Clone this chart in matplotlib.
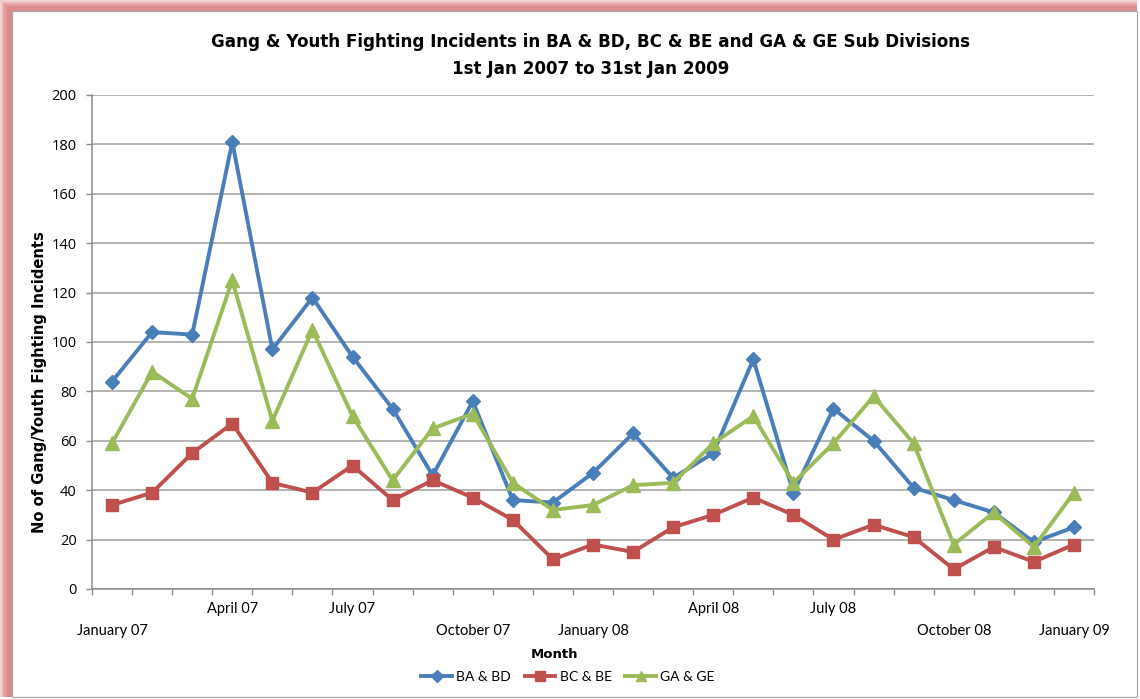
import matplotlib
matplotlib.use("Agg")
import matplotlib.pyplot as plt
import matplotlib.patches as mpatches
from matplotlib.transforms import blended_transform_factory
import numpy as np

# ---------------- data ----------------
months = ["Jan 07", "Feb 07", "Mar 07", "Apr 07", "May 07", "Jun 07", "Jul 07", "Aug 07",
          "Sep 07", "Oct 07", "Nov 07", "Dec 07", "Jan 08", "Feb 08", "Mar 08", "Apr 08",
          "May 08", "Jun 08", "Jul 08", "Aug 08", "Sep 08", "Oct 08", "Nov 08", "Dec 08",
          "Jan 09"]
ba_bd = [84, 104, 103, 181, 97, 118, 94, 73, 46, 76, 36, 35, 47, 63, 45, 55, 93, 39, 73, 60,
         41, 36, 31, 19, 25]
bc_be = [34, 39, 55, 67, 43, 39, 50, 36, 44, 37, 28, 12, 18, 15, 25, 30, 37, 30, 20, 26,
         21, 8, 17, 11, 18]
ga_ge = [59, 88, 77, 125, 68, 105, 70, 44, 65, 71, 43, 32, 34, 42, 43, 59, 70, 43, 59, 78,
         59, 18, 31, 17, 39]
series_names = ["BA & BD", "BC & BE", "GA & GE"]
tick_idx = [0, 3, 6, 9, 12, 15, 18, 21, 24]
tick_labels = ["January 07", "April 07", "July 07", "October 07", "January 08",
               "April 08", "July 08", "October 08", "January 09"]
y_ticks = [0, 20, 40, 60, 80, 100, 120, 140, 160, 180, 200]

title1 = "Gang & Youth Fighting Incidents in BA & BD, BC & BE and GA & GE Sub Divisions"
title2 = "1st Jan 2007 to 31st Jan 2009"
ylabel = "No of Gang/Youth Fighting Incidents"
xlabel = "Month"

# ---------------- figure ----------------
W, H = 1140, 699
fig = plt.figure(figsize=(W / 100, H / 100), dpi=100, facecolor="white")

def fx(x):
    return x / W

def fy(y):
    return 1 - y / H

# pink glow frame (top / left)
for (ox, oy, col) in [(0, 0, "#F4D2D2"), (2, 2, "#EBB3B3"), (4, 4, "#E29A9A"), (7, 6, "#DB8B8B")]:
    fig.patches.append(mpatches.Rectangle((fx(ox), fy(697)), fx(1137 - ox), fy(oy) - fy(697),
                                          transform=fig.transFigure, facecolor=col,
                                          edgecolor="none", zorder=-3))
fig.patches.append(mpatches.Rectangle((fx(11.5), fy(697)), fx(1137 - 11.5), fy(10.5) - fy(697),
                                      transform=fig.transFigure, facecolor="white",
                                      edgecolor="#A8A8A8", linewidth=0.9, zorder=-2))

L, R, T, B = 92, 1094, 95, 589
ax = fig.add_axes([fx(L), fy(B), fx(R - L), fy(T) - fy(B)])
ax.set_facecolor("none")
ax.set_zorder(2)

x = np.arange(len(months))
colors = ["#4A7EBB", "#C0504D", "#9BBB59"]
markers = ["D", "s", "^"]
msizes = [7.5, 9, 9.5]
handles = []
for vals, name, c, m, ms in zip([ba_bd, bc_be, ga_ge], series_names, colors, markers, msizes):
    h, = ax.plot(x, vals, color=c, lw=2.8, marker=m, markersize=ms, markeredgecolor=c,
                 markerfacecolor=c, label=name, zorder=3, solid_joinstyle="round")
    handles.append(h)

ax.set_xlim(-0.5, len(months) - 0.5)
ax.set_ylim(0, 200)
ax.set_yticks(y_ticks)
ax.yaxis.grid(True, color="#A0A0A0", linewidth=1.1)
ax.set_axisbelow(True)
for s in ["top", "right"]:
    ax.spines[s].set_visible(False)
for s in ["left", "bottom"]:
    ax.spines[s].set_color("#8C8C8C")
    ax.spines[s].set_linewidth(1.1)

ax.set_xticks(np.arange(-0.5, len(months), 1.0))
ax.set_xticklabels([])
ax.tick_params(axis="x", direction="out", length=4, width=1.0, color="#8C8C8C")
ax.tick_params(axis="y", direction="out", length=4, width=1.0, color="#8C8C8C",
               labelsize=10.5, pad=7, labelcolor="black")
for lab in ax.get_yticklabels():
    lab.set_fontfamily(["Open Sans", "DejaVu Sans"])

trans = blended_transform_factory(ax.transData, ax.transAxes)
axh = B - T
for i, (k, lab) in enumerate(zip(tick_idx, tick_labels)):
    upper = (i % 4) in (1, 2)
    ypx = 20 if upper else 42
    ax.text(x[k], -ypx / axh, lab, transform=trans, ha="center", va="center",
            fontsize=10.5, family=["Lato", "DejaVu Sans"], color="black")

bold_fam = ["DejaVu Sans"]
t1 = fig.text(fx(591), fy(42), title1, ha="center", va="center", fontsize=12,
              fontweight="bold", family=bold_fam)
t2 = fig.text(fx(591), fy(69), title2, ha="center", va="center", fontsize=12,
              fontweight="bold", family=bold_fam)
yl = fig.text(fx(40), fy(382), ylabel, ha="center", va="center", rotation=90, fontsize=12,
              fontweight="bold", family=bold_fam)
fig.text(fx(554), fy(655), xlabel, ha="center", va="center", fontsize=9.5,
         fontweight="bold", family=bold_fam)

# fit sizes of heavy texts to the reference extents (in pixels)
fig.canvas.draw()
rend = fig.canvas.get_renderer()
for txt, target, horiz in [(t1, 758, True), (yl, 300, False)]:
    bb = txt.get_window_extent(rend)
    cur = bb.width if horiz else bb.height
    txt.set_fontsize(txt.get_fontsize() * target / cur)
t2.set_fontsize(t1.get_fontsize())

leg = fig.legend(handles=handles, loc="center", bbox_to_anchor=(fx(568), fy(677)), ncol=3,
                 frameon=False, handlelength=2.2, handletextpad=0.3, columnspacing=1.0,
                 prop={"family": ["Lato", "DejaVu Sans"], "size": 10}, markerscale=0.8)

fig.savefig("out.png", dpi=100, facecolor="white")
